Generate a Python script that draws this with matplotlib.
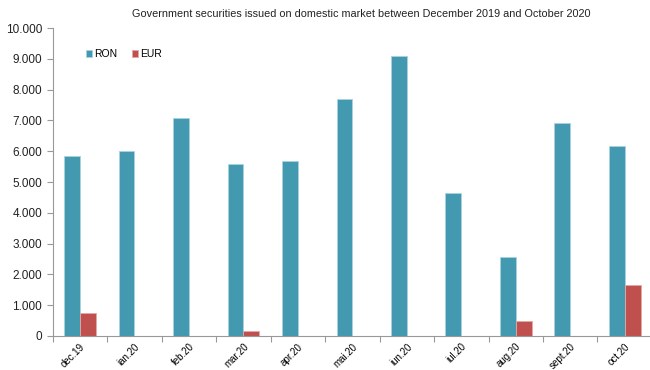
import matplotlib
matplotlib.use("Agg")
import matplotlib.pyplot as plt
import numpy as np
from matplotlib.ticker import FuncFormatter

plt.rcParams['font.family'] = ['Liberation Sans', 'DejaVu Sans']

months = ["dec.19", "ian.20", "feb.20", "mar.20", "apr.20", "mai.20",
          "iun.20", "iul.20", "aug.20", "sept.20", "oct.20"]
ron = [5850, 6000, 7070, 5580, 5680, 7700, 9100, 4640, 2570, 6920, 6180]
eur = [750, 0, 0, 150, 0, 0, 0, 0, 500, 0, 1660]

ron_color = "#4299B0"
eur_color = "#C0504D"

fig = plt.figure(figsize=(6.5, 3.7), dpi=100)
ax = fig.add_axes([0.081, 0.092, 0.922, 0.832])

x = np.arange(len(months))
w = 0.29
ax.bar(x - w / 2, ron, width=w, color=ron_color, edgecolor="#A9D3DE", linewidth=0.6, label="RON")
ax.bar(x + w / 2, eur, width=w, color=eur_color, edgecolor="#E3A9A7", linewidth=0.6, label="EUR")

ax.set_xlim(-0.5, len(months) - 0.5)
ax.set_ylim(0, 10000)
ax.set_yticks(np.arange(0, 10001, 1000))
ax.yaxis.set_major_formatter(FuncFormatter(lambda v, p: f"{int(v):,}".replace(",", ".")))

ax.set_xticks(x)
ax.set_xticklabels(months, rotation=45, ha="right", rotation_mode="anchor", fontsize=7)
ax.set_xticks(np.arange(-0.5, len(months), 1), minor=True)
ax.tick_params(axis="x", which="major", length=0, pad=4)
ax.tick_params(axis="x", which="minor", length=4, color="#999999", width=0.8, direction="out")
ax.tick_params(axis="y", length=4, color="#999999", width=0.8, labelsize=8.5, labelcolor="#222222")

for s in ("top", "right"):
    ax.spines[s].set_visible(False)
for s in ("left", "bottom"):
    ax.spines[s].set_color("#999999")
    ax.spines[s].set_linewidth(0.8)

ax.legend(loc="upper left", bbox_to_anchor=(0.04, 0.962), ncol=2, frameon=False,
          fontsize=7.5, handlelength=0.6, handleheight=0.6, handletextpad=0.2,
          columnspacing=1.4)

fig.text(0.555, 0.962, "Government securities issued on domestic market between December 2019 and October 2020",
         ha="center", va="center", fontsize=7.8, color="#222222")

fig.savefig("out.png", dpi=100)
